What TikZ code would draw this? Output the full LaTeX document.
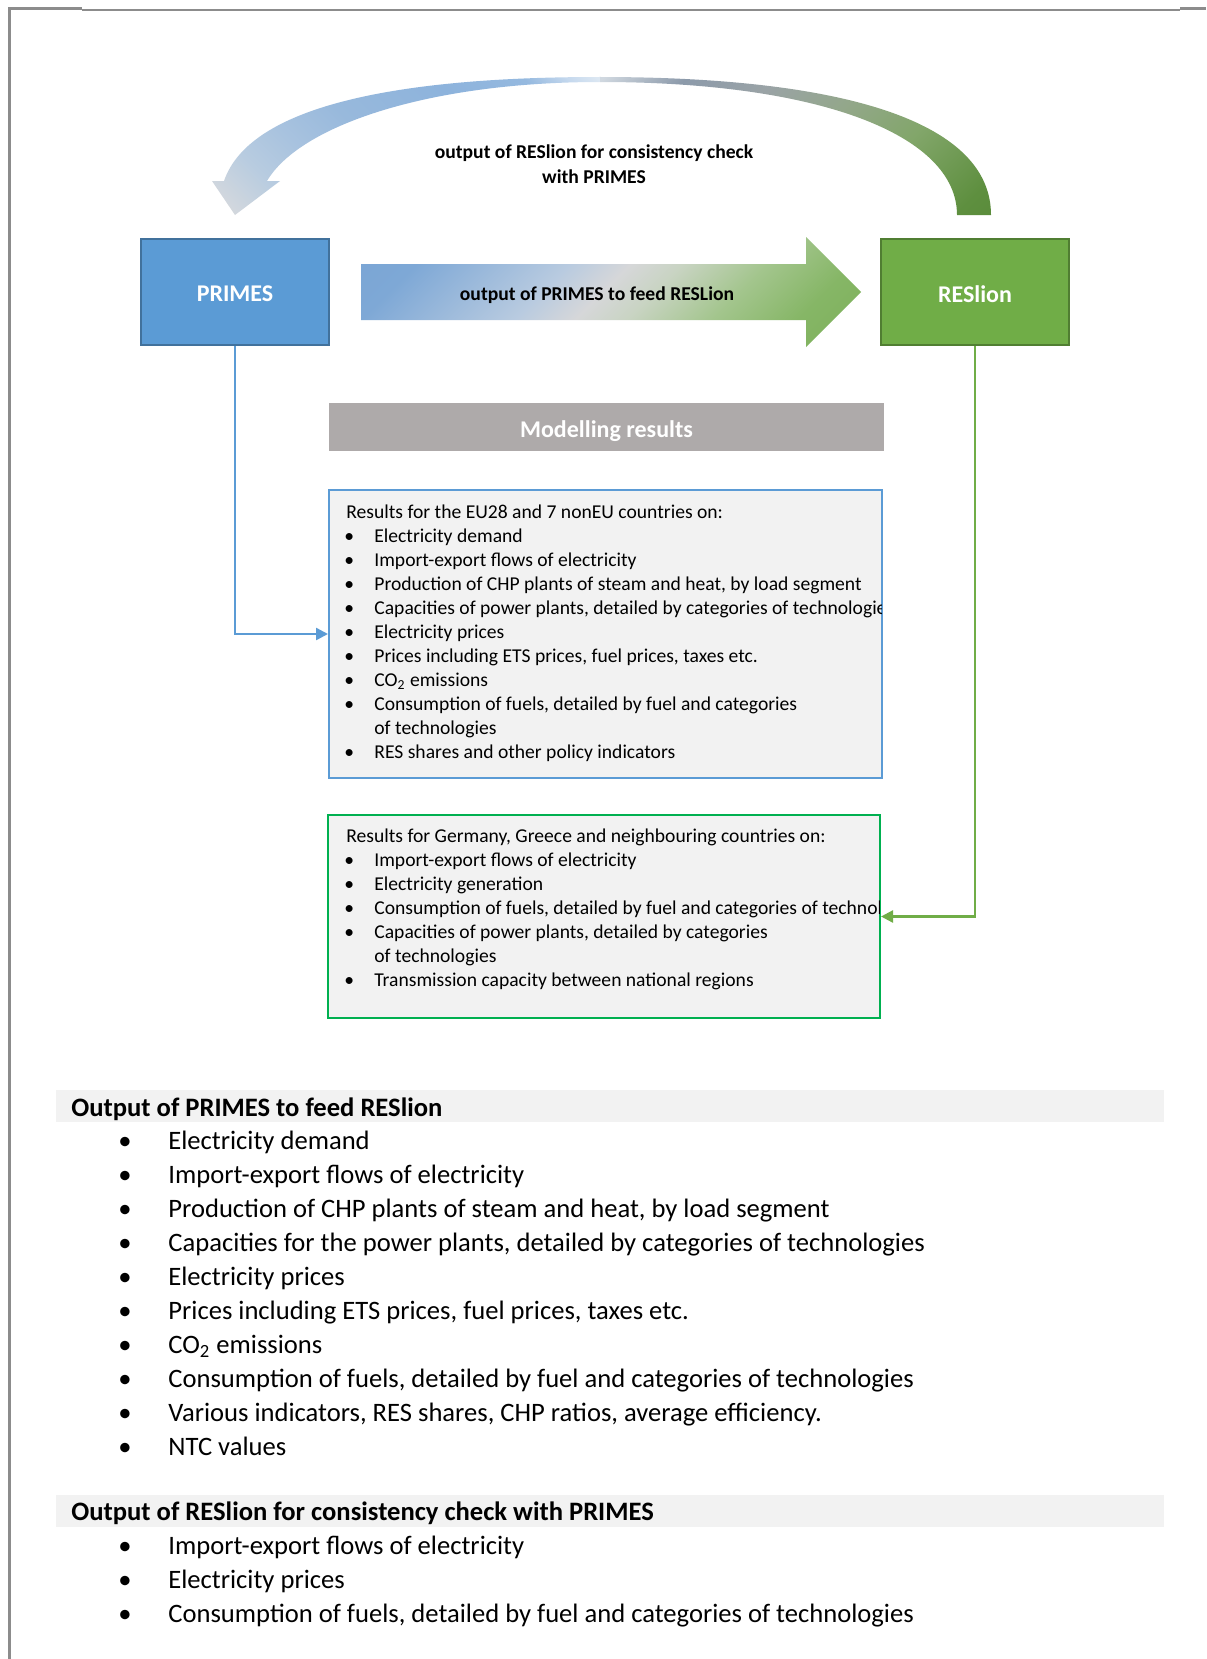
\documentclass[tikz,border=0pt]{standalone}
\usepackage{fontspec}
\setmainfont{Carlito}
\usetikzlibrary{arrows.meta}
\definecolor{primesfill}{HTML}{5B9BD5}
\definecolor{primesdraw}{HTML}{41719C}
\definecolor{resfill}{HTML}{70AD47}
\definecolor{resdraw}{HTML}{507E32}
\definecolor{bluebox}{HTML}{5B9BD5}
\definecolor{greenbox}{HTML}{00B050}
\definecolor{panel}{HTML}{F2F2F2}
\definecolor{barg}{HTML}{AEAAAA}
\definecolor{framec}{HTML}{8C8C8C}
% shadings (vertical: 0bp = bottom, 100bp = top; 25..75bp span the path box)
\pgfdeclareverticalshading{arcleftshade}{100bp}{%
  rgb(0bp)=(0.839,0.851,0.867); rgb(17bp)=(0.839,0.851,0.867);
  rgb(27bp)=(0.722,0.800,0.878); rgb(35bp)=(0.663,0.765,0.875);
  rgb(46bp)=(0.596,0.725,0.863); rgb(63bp)=(0.553,0.702,0.863);
  rgb(75bp)=(0.584,0.725,0.875); rgb(81bp)=(0.776,0.851,0.933);
  rgb(85bp)=(0.863,0.906,0.949); rgb(100bp)=(0.863,0.906,0.949)}
\pgfdeclareverticalshading{arcrightshade}{100bp}{%
  rgb(0bp)=(0.353,0.549,0.231); rgb(15bp)=(0.353,0.549,0.231);
  rgb(20bp)=(0.369,0.561,0.247); rgb(36bp)=(0.510,0.651,0.416);
  rgb(49bp)=(0.576,0.655,0.541); rgb(62bp)=(0.604,0.639,0.651);
  rgb(74bp)=(0.549,0.604,0.667); rgb(85bp)=(0.816,0.847,0.878);
  rgb(100bp)=(0.816,0.847,0.878)}
\pgfdeclareverticalshading{feedshade}{100bp}{%
  rgb(0bp)=(0.490,0.690,0.357); rgb(15bp)=(0.490,0.690,0.357);
  rgb(25bp)=(0.525,0.714,0.400); rgb(35bp)=(0.639,0.773,0.553);
  rgb(45bp)=(0.788,0.831,0.765); rgb(51bp)=(0.839,0.843,0.851);
  rgb(58bp)=(0.725,0.796,0.878); rgb(76bp)=(0.494,0.659,0.839);
  rgb(85bp)=(0.478,0.647,0.831); rgb(100bp)=(0.478,0.647,0.831)}
\newcommand\mybul{\makebox[15pt][l]{\textbullet}}
\newcommand\mycont{\hspace*{15pt}}
\newcommand\mybigbul{\makebox[26pt][l]{\hspace{1pt}\textbullet}}
\newcommand\mylower[1]{\raisebox{-1pt}[\height][0pt]{#1}}
\tikzset{
  model/.style={minimum width=94pt, minimum height=53pt, line width=1.3pt,
    text=white, font=\fontsize{12}{14}\selectfont\bfseries, inner sep=0},
  conn/.style={line width=1.2pt, -{Triangle[length=6pt,width=6pt]}},
  panelbox/.style={fill=panel, line width=1pt, inner sep=0},
  lbl/.style={font=\fontsize{9.8}{12.5}\selectfont\bfseries, align=center, inner sep=0},
  boxlist/.style={font=\fontsize{9.8}{12}\selectfont, inner sep=0, anchor=base west},
  biglist/.style={font=\fontsize{13.3}{17}\selectfont, inner sep=0, anchor=base west},
  bighead/.style={font=\fontsize{13.3}{17}\selectfont\bfseries, inner sep=0, anchor=base west},
  band/.style={fill=panel, inner sep=0, minimum width=554pt, minimum height=16pt}
}
\begin{document}
\begin{tikzpicture}[x=0.5pt,y=-0.5pt]
\useasboundingbox (0,0) rectangle (1206,1659);
\fill[white] (0,0) rectangle (1206,1659);
% page frame
\draw[framec, line width=1.5pt] (9.5,1659) -- (9.5,8.5) -- (82,8.5);
\draw[framec, line width=0.8pt] (82,10) -- (1180,10);
\draw[framec, line width=1.5pt] (1180,8.5) -- (1206,8.5);

% curved block arrow (RESlion -> PRIMES)
\begin{scope}
\clip (991,215) .. controls (991,125) and (854,77) .. (600,77)
  .. controls (400,77) and (250,105) .. (224,181)
  -- (212,181) -- (235,215) -- (280,181) -- (267,181)
  .. controls (300,125) and (430,82) .. (600,82)
  .. controls (820,82) and (957,135) .. (957,215) -- cycle;
\shade[shading=arcleftshade, shading angle=-45] (210,77) rectangle (601,216);
\shade[shading=arcrightshade, shading angle=45] (600,77) rectangle (996,216);
\end{scope}
\node[lbl] (checklbl) at (594,164) {output of RESlion for consistency check\\with PRIMES};

% straight block arrow (PRIMES -> RESlion)
\shade[shading=feedshade, shading angle=45]
  (361,264) -- (806,264) -- (806,237) -- (861,292) -- (806,347) -- (806,320) -- (361,320) -- cycle;
\node[lbl] (feedlbl) at (597,295) {output of PRIMES to feed RESLion};

% models
\node[model, fill=primesfill, draw=primesdraw] (primes) at (235,292) {\mylower{PRIMES}};
\node[model, fill=resfill, draw=resdraw] (reslion) at (975,292) {\mylower{RESlion}};

% modelling results bar
\node[fill=barg, minimum width=277.5pt, minimum height=24pt, inner sep=0,
  text=white, font=\fontsize{12}{14}\selectfont\bfseries] (model) at (606.5,427) {\mylower{Modelling results}};

% result boxes
\node[panelbox, draw=bluebox, minimum width=276.5pt, minimum height=144pt] (eubox) at (605.5,634) {};
\node[panelbox, draw=greenbox, minimum width=276pt, minimum height=101.5pt] (debox) at (604,916.5) {};

\begin{scope}
\clip (330,491) rectangle (881,777);
\node[boxlist] (eulist) at (344,518) {\begin{tabular}[t]{@{}l@{}}
\hspace{1pt}Results for the EU28 and 7 nonEU countries on:\\
\mybul Electricity demand\\
\mybul Import-export flows of electricity\\
\mybul Production of CHP plants of steam and heat, by load segment\\
\mybul Capacities of power plants, detailed by categories of technologies\\
\mybul Electricity prices\\
\mybul Prices including ETS prices, fuel prices, taxes etc.\\
\mybul CO\textsubscript{2} emissions\\
\mybul Consumption of fuels, detailed by fuel and categories\\
\mycont of technologies\\
\mybul RES shares and other policy indicators
\end{tabular}};
\end{scope}

\begin{scope}
\clip (329,816) rectangle (879,1017);
\node[boxlist] (delist) at (344,842) {\begin{tabular}[t]{@{}l@{}}
\hspace{1pt}Results for Germany, Greece and neighbouring countries on:\\
\mybul Import-export flows of electricity\\
\mybul Electricity generation\\
\mybul Consumption of fuels, detailed by fuel and categories of technologies\\
\mybul Capacities of power plants, detailed by categories\\
\mycont of technologies\\
\mybul Transmission capacity between national regions
\end{tabular}};
\end{scope}

% connectors
\draw[conn, primesfill] (primes.south) |- (eubox.west);
\draw[conn, resfill] (reslion.south) |- (debox.east);

% lower text part
\node[band] (band1) at (610,1106) {};
\node[bighead] (head1) at (71,1116) {Output of PRIMES to feed RESlion};
\node[biglist] (list1) at (116,1149.5) {\begin{tabular}[t]{@{}l@{}}
\mybigbul Electricity demand\\
\mybigbul Import-export flows of electricity\\
\mybigbul Production of CHP plants of steam and heat, by load segment\\
\mybigbul Capacities for the power plants, detailed by categories of technologies\\
\mybigbul Electricity prices\\
\mybigbul Prices including ETS prices, fuel prices, taxes etc.\\
\mybigbul CO\textsubscript{2} emissions\\
\mybigbul Consumption of fuels, detailed by fuel and categories of technologies\\
\mybigbul Various indicators, RES shares, CHP ratios, average efficiency.\\
\mybigbul NTC values
\end{tabular}};

\node[band] (band2) at (610,1511) {};
\node[bighead] (head2) at (71,1520.5) {Output of RESlion for consistency check with PRIMES};
\node[biglist] (list2) at (116,1554.5) {\begin{tabular}[t]{@{}l@{}}
\mybigbul Import-export flows of electricity\\
\mybigbul Electricity prices\\
\mybigbul Consumption of fuels, detailed by fuel and categories of technologies
\end{tabular}};
\end{tikzpicture}
\end{document}
